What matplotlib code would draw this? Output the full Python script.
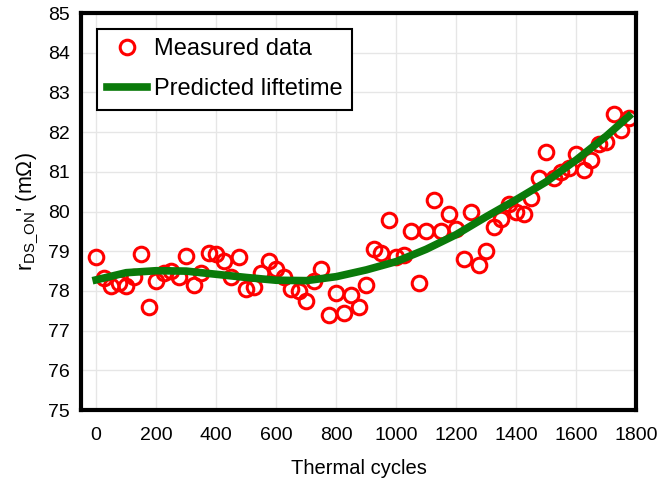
import matplotlib.pyplot as plt
import numpy as np

plt.rcParams['font.family'] = ['Liberation Sans', 'DejaVu Sans']
plt.rcParams['mathtext.fontset'] = 'custom'
plt.rcParams['mathtext.rm'] = 'Liberation Sans'
plt.rcParams['mathtext.it'] = 'Liberation Sans'

# measured r_DS_ON' every 25 thermal cycles
cycles = np.arange(0, 1800, 25)
measured = [
    78.85, 78.32, 78.12, 78.20, 78.12, 78.35, 78.92, 77.60,
    78.25, 78.45, 78.50, 78.35, 78.88, 78.15, 78.45, 78.95,
    78.93, 78.75, 78.35, 78.85, 78.05, 78.10, 78.45, 78.75,
    78.55, 78.35, 78.05, 78.00, 77.75, 78.25, 78.55, 77.40,
    77.95, 77.45, 77.90, 77.60, 78.15, 79.05, 78.95, 79.78,
    78.85, 78.90, 79.50, 78.20, 79.50, 80.30, 79.50, 79.95,
    79.55, 78.80, 80.00, 78.65, 79.00, 79.60, 79.80, 80.20,
    80.00, 79.95, 80.35, 80.85, 81.50, 80.85, 81.00, 81.10,
    81.45, 81.05, 81.30, 81.70, 81.75, 82.45, 82.05, 82.35,
]

# predicted lifetime curve
pred_cycles = [0, 100, 200, 300, 400, 500, 600, 700, 800, 900,
               1000, 1100, 1200, 1300, 1400, 1500, 1600, 1700, 1775]
predicted = [78.28, 78.46, 78.51, 78.50, 78.42, 78.34, 78.27, 78.26, 78.36, 78.53,
             78.74, 79.05, 79.42, 79.87, 80.30, 80.75, 81.30, 81.90, 82.40]

fig = plt.figure(figsize=(6.6, 4.83), dpi=100)
ax = fig.add_axes([0.123, 0.151, 0.841, 0.822])

ax.plot(cycles, measured, 'o', markersize=10.5, markerfacecolor='none',
        markeredgecolor='#ff0000', markeredgewidth=2.2, label='Measured data')
ax.plot(pred_cycles, predicted, '-', color='#0a7a0a', linewidth=5.5,
        label='Predicted liftetime')

ax.set_xlim(-50, 1800)
ax.set_ylim(75, 85)
ax.set_xticks(np.arange(0, 1801, 200))
ax.set_yticks(np.arange(75, 86, 1))
ax.grid(True, color='#e6e6e6', linewidth=1)
ax.set_axisbelow(True)
ax.tick_params(length=0, labelsize=14)
ax.tick_params(axis='x', pad=12)
ax.tick_params(axis='y', pad=8)
for sp in ax.spines.values():
    sp.set_linewidth(3)

ax.set_xlabel('Thermal cycles', fontsize=14.5, labelpad=11)
ax.set_ylabel(r"r$_{\mathrm{DS\_ON}}$' (mΩ)", fontsize=15.5, labelpad=5)

leg = ax.legend(loc='upper left', bbox_to_anchor=(0.029, 0.96), borderaxespad=0,
                fontsize=17, fancybox=False, framealpha=1, edgecolor='black',
                handlelength=1.7, handletextpad=0.3, labelspacing=0.75,
                borderpad=0.4, numpoints=1)
leg.get_frame().set_linewidth(1.5)

fig.savefig('out.png', dpi=100)
